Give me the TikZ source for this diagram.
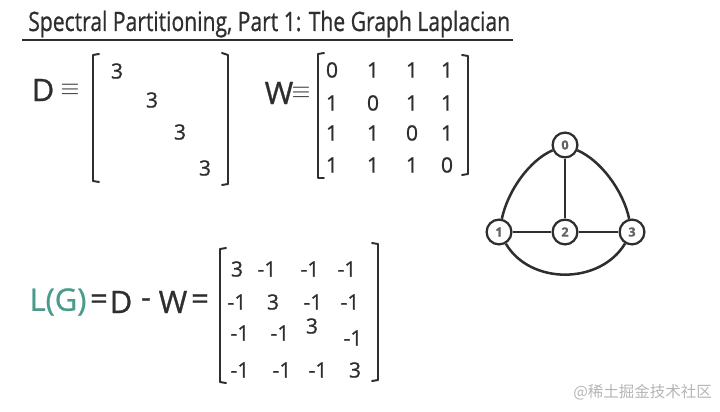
\documentclass[tikz,border=0pt]{standalone}
\usepackage{fontspec}
\setmainfont{Open Sans}[FakeBold=0.8]
\newfontfamily\cjkfont{Noto Sans CJK SC}
\usetikzlibrary{positioning}
\definecolor{inkGray}{HTML}{2E2E2E}
\definecolor{lapTeal}{HTML}{4A9B8B}
\definecolor{markGray}{HTML}{B5B5B5}

\begin{document}
\begin{tikzpicture}[x=0.025cm, y=-0.025cm, inkGray,
  entry/.style={font=\fontsize{15}{15}\selectfont, inner sep=0pt},
  lbl/.style={font=\fontsize{22}{22}\selectfont, inner sep=0pt},
  eqv/.style={font=\fontsize{19}{19}\selectfont, inner sep=0pt},
  bracket/.style={line width=1.4pt, line cap=round, line join=round},
  vertex/.style={circle, draw, line width=1.6pt, fill=white, minimum size=0.62cm, inner sep=0pt, font=\bfseries\fontsize{9}{9}\selectfont, text=inkGray!75},
  edge/.style={line width=1.8pt}]
\useasboundingbox (0,0) rectangle (720,412);
% title
\node[anchor=base west, inner sep=0pt, font=\fontsize{19}{19}\selectfont] (title) at (28,31) {\scalebox{0.79}[1]{Spectral Partitioning, Part 1: The Graph Laplacian}};
\draw[line width=1.2pt] (22,40) -- (513,40);
% degree matrix
\node[lbl] (dlab) at (43,90) {D};
\node[eqv] (deq) at (70,90) {$\equiv$};
\draw[bracket] (99,54) -- (93,55) -- (93,181) -- (99,182);
\draw[bracket] (222,53) -- (228,55) -- (228,184) -- (222,185);
\node[entry] (d1) at (117,71) {3}; \node[entry] (d2) at (152,100) {3};
\node[entry] (d3) at (180,132) {3}; \node[entry] (d4) at (205,168) {3};
% adjacency matrix
\node[lbl] (wlab) at (279,93) {W};
\node[eqv] (weq) at (301,93) {$\equiv$};
\draw[bracket] (324,53) -- (318,54) -- (318,178) -- (324,178);
\draw[bracket] (462,55) -- (468,56) -- (468,174) -- (462,175);
\foreach \r/\y in {1/70,2/103,3/133,4/165}
  \foreach \c/\x in {1/332,2/373,3/412,4/447}
    \node[entry] (w\r\c) at (\x,\y) {\ifnum\r=\c\relax 0\else 1\fi};
% graph
\node[vertex] (v0) at (565,145) {0};
\node[vertex] (v1) at (499,232) {1};
\node[vertex] (v2) at (565,232) {2};
\node[vertex] (v3) at (632,232) {3};
\draw[edge] (v0) -- (v2); \draw[edge] (v1) -- (v2) -- (v3);
\draw[edge] (v0) .. controls (530,160) and (508,190) .. (v1);
\draw[edge] (v0) .. controls (600,160) and (623,190) .. (v3);
\draw[edge] (v1) .. controls (530,285) and (600,285) .. (v3);
% laplacian
\node[lbl, text=lapTeal] (lg) at (58,302) {L(G)};
\node[lbl] (eq1) at (99,302) {=};
\node[lbl] (dd) at (121,302) {D};
\node[lbl] (mi) at (146,303) {-};
\node[lbl] (ww) at (173,302) {W};
\node[lbl] (eq2) at (200,302) {=};
\draw[bracket] (226,248) -- (220,249) -- (220,382) -- (226,383);
\draw[bracket] (372,243) -- (378,244) -- (378,380) -- (372,381);
\node[entry] (l11) at (237,269) {3}; \node[entry] (l12) at (267,269) {-1};
\node[entry] (l13) at (310,269) {-1}; \node[entry] (l14) at (347,269) {-1};
\node[entry] (l21) at (237,302) {-1}; \node[entry] (l22) at (273,302) {3};
\node[entry] (l23) at (313,302) {-1}; \node[entry] (l24) at (350,302) {-1};
\node[entry] (l31) at (240,333) {-1}; \node[entry] (l32) at (280,333) {-1};
\node[entry] (l33) at (312,326) {3}; \node[entry] (l34) at (353,338) {-1};
\node[entry] (l41) at (240,370) {-1}; \node[entry] (l42) at (282,370) {-1};
\node[entry] (l43) at (318,370) {-1}; \node[entry] (l44) at (355,370) {3};
% watermark
\node[markGray, anchor=east, inner sep=0pt, font=\cjkfont\fontsize{11}{11}\selectfont] (wm) at (712,392) {@稀土掘金技术社区};
\end{tikzpicture}
\end{document}
